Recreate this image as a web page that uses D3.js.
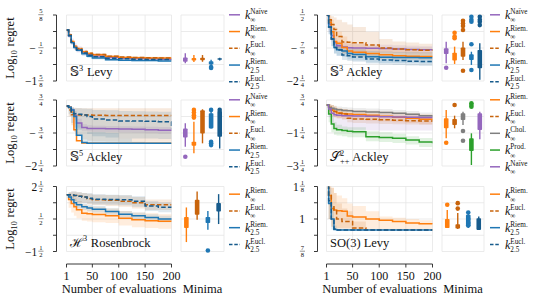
<!DOCTYPE html>
<html>
<head>
<meta charset="utf-8">
<title>Regret curves and minima</title>
<script src="https://d3js.org/d3.v7.min.js"></script>
<style>
  body { margin: 0; background: #fff; }
  svg text { font-family: "Liberation Serif", "DejaVu Serif", serif; fill: #111; white-space: pre; }
</style>
</head>
<body>
<svg id="chart" width="541" height="299"></svg>
<script>
// evaluation grid shared by every curve
const evals = [1, 5, 10, 15, 20, 30, 40, 50, 75, 100, 125, 150, 175, 200];
const xTicks = [1, 50, 100, 150, 200];

// ---- S3 Levy ----
const levyS3Ticks = [0.625, 0.0625, -0.5, -1.0625, -1.625];
const levyS3Labels = ["5/8", "", "−1/2", "", "−1 5/8"];
const levyS3Naive = [0.11, -0.08, -0.3, -0.45, -0.55, -0.66, -0.73, -0.77, -0.82, -0.85, -0.86, -0.87, -0.88, -0.88];
const levyS3NaiveLo = [0.11, -0.16, -0.4, -0.56, -0.65, -0.75, -0.81, -0.85, -0.88, -0.9, -0.91, -0.92, -0.93, -0.93];
const levyS3NaiveHi = [0.11, 0.0, -0.18, -0.33, -0.44, -0.56, -0.64, -0.68, -0.75, -0.79, -0.8, -0.81, -0.82, -0.82];
const levyS3RiemInf = [0.11, -0.06, -0.28, -0.44, -0.53, -0.63, -0.69, -0.73, -0.79, -0.82, -0.83, -0.84, -0.84, -0.84];
const levyS3RiemInfLo = [0.11, -0.12, -0.34, -0.5, -0.59, -0.69, -0.74, -0.78, -0.83, -0.86, -0.87, -0.88, -0.88, -0.88];
const levyS3RiemInfHi = [0.11, 0.0, -0.22, -0.38, -0.47, -0.57, -0.64, -0.68, -0.75, -0.78, -0.79, -0.8, -0.8, -0.8];
const levyS3EuclInf = [0.11, -0.06, -0.28, -0.43, -0.52, -0.62, -0.68, -0.72, -0.78, -0.81, -0.82, -0.83, -0.84, -0.84];
const levyS3Riem25 = [0.11, -0.08, -0.32, -0.48, -0.58, -0.7, -0.78, -0.84, -0.9, -0.92, -0.93, -0.93, -0.94, -0.94];
const levyS3Riem25Lo = [0.11, -0.14, -0.38, -0.54, -0.64, -0.76, -0.84, -0.89, -0.94, -0.95, -0.96, -0.96, -0.97, -0.97];
const levyS3Riem25Hi = [0.11, -0.02, -0.26, -0.42, -0.52, -0.64, -0.72, -0.79, -0.86, -0.89, -0.9, -0.9, -0.91, -0.91];
const levyS3Eucl25 = [0.11, -0.07, -0.3, -0.46, -0.56, -0.67, -0.75, -0.8, -0.85, -0.87, -0.88, -0.89, -0.89, -0.89];
// boxes: [low whisker, q1, q3, high whisker]
const levyS3Boxes = [[-1.02, -0.97, -0.82, -0.68], [-0.98, -0.93, -0.84, -0.74], [-0.97, -0.92, -0.83, -0.74], [-1.1, -1.06, -0.95, -0.9], [-0.93, -0.9, -0.85, -0.83]];
const levyS3Fliers = [[], [], [], [-1.15, -1.18], []];

// ---- S5 Ackley ----
const ackleyS5Ticks = [0.75, 0, -0.75, -1.5, -2.25];
const ackleyS5Labels = ["3/4", "", "−3/4", "", "−2 1/4"];
const ackleyS5Naive = [0.48, 0.42, 0.3, 0.05, -0.3, -0.5, -0.54, -0.55, -0.56, -0.57, -0.58, -0.6, -0.62, -0.64];
const ackleyS5NaiveLo = [0.48, 0.38, 0.2, -0.15, -0.5, -0.65, -0.68, -0.7, -0.72, -0.73, -0.74, -0.76, -0.78, -0.8];
const ackleyS5NaiveHi = [0.48, 0.46, 0.4, 0.2, -0.1, -0.35, -0.4, -0.42, -0.43, -0.44, -0.45, -0.47, -0.48, -0.5];
const ackleyS5RiemInf = [0.48, 0.42, 0.2, -0.6, -1.1, -1.2, -1.22, -1.22, -1.22, -1.22, -1.22, -1.22, -1.22, -1.22];
const ackleyS5EuclInf = [0.48, 0.3, 0.08, 0.07, 0.07, 0.07, 0.07, 0.06, 0.05, 0.05, 0.04, 0.04, 0.04, 0.04];
const ackleyS5EuclInfLo = [0.48, 0.0, -0.4, -0.7, -0.9, -1.05, -1.1, -1.12, -1.14, -1.15, -1.15, -1.15, -1.15, -1.15];
const ackleyS5EuclInfHi = [0.48, 0.47, 0.42, 0.4, 0.39, 0.38, 0.38, 0.38, 0.38, 0.38, 0.37, 0.37, 0.37, 0.37];
const ackleyS5Riem25 = [0.48, 0.42, 0.3, 0.0, -0.85, -1.18, -1.22, -1.22, -1.22, -1.22, -1.22, -1.22, -1.22, -1.22];
const ackleyS5Riem25Lo = [0.48, 0.42, 0.3, 0.0, -0.85, -1.18, -1.22, -1.22, -1.22, -1.22, -1.22, -1.22, -1.22, -1.22];
const ackleyS5Riem25Hi = [0.48, 0.46, 0.4, 0.25, -0.3, -0.7, -0.72, -0.72, -0.75, -1.0, -1.15, -1.2, -1.2, -1.2];
const ackleyS5Eucl25 = [0.48, 0.35, 0.15, 0.12, 0.1, 0.07, 0.0, -0.11, -0.16, -0.2, -0.21, -0.22, -0.24, -0.54];
const ackleyS5Eucl25Lo = [0.48, 0.1, -0.3, -0.5, -0.6, -0.7, -0.8, -0.9, -0.95, -1.0, -1.0, -1.0, -1.02, -1.15];
const ackleyS5Eucl25Hi = [0.48, 0.46, 0.4, 0.38, 0.37, 0.36, 0.35, 0.3, 0.28, 0.25, 0.24, 0.23, 0.22, 0.1];
const ackleyS5Boxes = [[-1.37, -0.96, -0.54, -0.31], [-1.67, -1.33, -1.15, -0.24], [-1.22, -0.77, 0.28, 0.33], [-0.54, -0.54, 0.15, 0.3], [-1.45, -0.92, 0.25, 0.25]];
const ackleyS5Fliers = [[-1.83], [0.3, 0.18, 0.06, -0.05], [], [0.3, -1.15, -1.22, -1.3], [0.3]];

// ---- H3 Rosenbrock ----
const rosenH3Ticks = [2.5, 1.5, 0.5, -0.5, -1.5];
const rosenH3Labels = ["2 1/2", "", "1/2", "", "−1 1/2"];
const rosenH3RiemInf = [1.99, 1.7, 1.45, 1.25, 1.07, 0.86, 0.82, 0.78, 0.7, 0.55, 0.45, 0.4, 0.36, 0.35];
const rosenH3RiemInfLo = [1.99, 1.2, 0.9, 0.7, 0.55, 0.4, 0.35, 0.3, 0.25, 0.1, 0.0, -0.05, -0.1, -0.1];
const rosenH3RiemInfHi = [1.99, 2.1, 2.0, 1.8, 1.6, 1.4, 1.3, 1.25, 1.15, 1.0, 0.9, 0.85, 0.8, 0.8];
const rosenH3EuclInf = [1.99, 1.99, 1.98, 1.95, 1.9, 1.85, 1.75, 1.68, 1.65, 1.6, 1.5, 1.37, 1.37, 1.37];
const rosenH3EuclInfLo = [1.99, 1.8, 1.7, 1.6, 1.55, 1.5, 1.4, 1.35, 1.3, 1.25, 1.15, 1.05, 1.05, 1.05];
const rosenH3EuclInfHi = [1.99, 2.15, 2.2, 2.2, 2.15, 2.1, 2.05, 2.0, 1.98, 1.95, 1.85, 1.7, 1.7, 1.7];
const rosenH3Riem25 = [1.99, 1.85, 1.68, 1.5, 1.37, 1.25, 1.17, 1.1, 0.96, 0.8, 0.7, 0.6, 0.5, 0.45];
const rosenH3Riem25Lo = [1.99, 1.7, 1.5, 1.3, 1.15, 1.05, 0.97, 0.9, 0.76, 0.6, 0.5, 0.4, 0.3, 0.25];
const rosenH3Riem25Hi = [1.99, 2.0, 1.86, 1.7, 1.58, 1.45, 1.37, 1.3, 1.16, 1.0, 0.9, 0.8, 0.7, 0.65];
const rosenH3Eucl25 = [1.99, 1.99, 1.97, 1.95, 1.9, 1.85, 1.78, 1.72, 1.7, 1.68, 1.6, 1.3, 1.22, 1.2];
const rosenH3Eucl25Lo = [1.99, 1.8, 1.7, 1.6, 1.55, 1.5, 1.45, 1.4, 1.38, 1.35, 1.25, 1.0, 0.92, 0.9];
const rosenH3Eucl25Hi = [1.99, 2.15, 2.2, 2.2, 2.15, 2.1, 2.08, 2.02, 2.0, 1.98, 1.9, 1.6, 1.52, 1.5];
const rosenH3Boxes = [[-0.92, -0.06, 0.62, 1.21], [0.45, 0.76, 1.68, 2.19], [-0.16, 0.25, 0.62, 1.0], [0.19, 0.96, 1.48, 2.03]];
const rosenH3Fliers = [[], [], [-1.44], []];

// ---- S3 Ackley ----
const ackleyS3Ticks = [0.5, -0.1875, -0.875, -1.5625, -2.25];
const ackleyS3Labels = ["1/2", "", "−7/8", "", "−2 1/4"];
const ackleyS3Naive = [0.5, 0.1, -0.35, -0.65, -0.78, -0.83, -0.86, -0.88, -0.89, -0.9, -0.92, -0.94, -0.95, -0.96];
const ackleyS3NaiveLo = [0.5, -0.2, -0.6, -0.85, -0.95, -1.0, -1.02, -1.04, -1.05, -1.06, -1.08, -1.1, -1.1, -1.1];
const ackleyS3NaiveHi = [0.5, 0.35, -0.1, -0.45, -0.6, -0.66, -0.7, -0.72, -0.73, -0.74, -0.76, -0.78, -0.8, -0.82];
const ackleyS3RiemInf = [0.5, 0.2, -0.2, -0.6, -0.68, -0.85, -1.0, -1.05, -1.1, -1.16, -1.2, -1.22, -1.23, -1.24];
const ackleyS3RiemInfLo = [0.5, -0.1, -0.5, -0.85, -0.95, -1.1, -1.2, -1.25, -1.3, -1.33, -1.35, -1.36, -1.37, -1.38];
const ackleyS3RiemInfHi = [0.5, 0.45, 0.3, 0.0, -0.2, -0.4, -0.6, -0.7, -0.8, -0.9, -0.95, -1.0, -1.02, -1.05];
const ackleyS3EuclInf = [0.5, 0.3, 0.1, -0.1, -0.4, -0.62, -0.64, -0.66, -0.75, -0.88, -0.92, -0.95, -0.97, -0.99];
const ackleyS3EuclInfLo = [0.5, 0.1, -0.3, -0.6, -0.9, -1.1, -1.1, -1.15, -1.2, -1.25, -1.25, -1.28, -1.28, -1.28];
const ackleyS3EuclInfHi = [0.5, 0.5, 0.45, 0.4, 0.3, 0.2, 0.1, 0.0, -0.2, -0.5, -0.6, -0.65, -0.7, -0.7];
const ackleyS3Riem25 = [0.5, 0.0, -0.5, -0.85, -0.95, -1.0, -1.1, -1.15, -1.24, -1.26, -1.27, -1.27, -1.28, -1.28];
const ackleyS3Riem25Lo = [0.5, -0.3, -0.8, -1.1, -1.2, -1.25, -1.35, -1.4, -1.48, -1.5, -1.5, -1.5, -1.52, -1.52];
const ackleyS3Riem25Hi = [0.5, 0.3, -0.2, -0.6, -0.7, -0.78, -0.88, -0.92, -1.0, -1.02, -1.04, -1.04, -1.05, -1.05];
const ackleyS3Eucl25 = [0.5, 0.0, -0.5, -0.85, -0.96, -1.17, -1.2, -1.25, -1.33, -1.38, -1.4, -1.43, -1.44, -1.45];
const ackleyS3Eucl25Lo = [0.5, -0.3, -0.8, -1.1, -1.2, -1.38, -1.42, -1.45, -1.52, -1.56, -1.58, -1.6, -1.62, -1.62];
const ackleyS3Eucl25Hi = [0.5, 0.3, -0.2, -0.6, -0.72, -0.96, -1.0, -1.05, -1.14, -1.2, -1.22, -1.26, -1.27, -1.28];
const ackleyS3Boxes = [[-1.51, -1.125, -0.89, -0.61], [-1.54, -1.4, -1.07, -0.82], [-1.375, -1.24, -0.85, -0.61], [-1.58, -1.375, -1.14, -1.03], [-2.2, -1.72, -0.96, -0.68]];
const ackleyS3Fliers = [[-1.7], [-0.24, -0.4, -0.47], [0.26, 0.15, 0.04, -0.125, -1.82], [0.43, 0.3, 0.22, -0.72, -1.79], [0.43, 0.3, 0.22, 0.08]];

// ---- SPD(2) Ackley ----
const ackleySpdTicks = [0.75, -0.25, -1.25, -2.25, -3.25];
const ackleySpdLabels = ["3/4", "", "−1 1/4", "", "−3 1/4"];
const ackleySpdRiemInf = [0.45, 0.3, 0.15, 0.05, -0.04, -0.08, -0.1, -0.13, -0.18, -0.24, -0.3, -0.36, -0.42, -0.46];
const ackleySpdRiemInfLo = [0.45, 0.0, -0.2, -0.3, -0.35, -0.4, -0.42, -0.45, -0.5, -0.55, -0.6, -0.65, -0.7, -0.72];
const ackleySpdRiemInfHi = [0.45, 0.5, 0.45, 0.35, 0.25, 0.2, 0.18, 0.15, 0.1, 0.05, 0.0, -0.06, -0.12, -0.16];
const ackleySpdEuclInf = [0.45, 0.3, 0.15, 0.05, -0.05, -0.1, -0.35, -0.4, -0.42, -0.45, -0.48, -0.5, -0.53, -0.55];
const ackleySpdEuclInfLo = [0.45, 0.0, -0.2, -0.3, -0.35, -0.45, -0.6, -0.65, -0.68, -0.7, -0.72, -0.74, -0.76, -0.78];
const ackleySpdEuclInfHi = [0.45, 0.5, 0.45, 0.35, 0.25, 0.2, -0.1, -0.15, -0.18, -0.2, -0.24, -0.26, -0.3, -0.32];
const ackleySpdChol = [0.45, 0.3, 0.25, 0.2, 0.16, 0.12, 0.1, 0.06, 0.03, 0.0, -0.06, -0.12, -0.2, -0.26];
const ackleySpdCholLo = [0.45, 0.1, 0.05, 0.0, -0.04, -0.08, -0.1, -0.14, -0.17, -0.2, -0.26, -0.32, -0.4, -0.46];
const ackleySpdCholHi = [0.45, 0.5, 0.45, 0.4, 0.36, 0.32, 0.3, 0.26, 0.23, 0.2, 0.14, 0.08, 0.0, -0.06];
const ackleySpdProd = [0.45, -0.1, -0.7, -0.97, -1.05, -1.1, -1.15, -1.17, -1.47, -1.52, -1.57, -1.68, -1.8, -1.87];
const ackleySpdProdLo = [0.45, -0.6, -1.2, -1.35, -1.4, -1.45, -1.5, -1.5, -1.75, -1.8, -1.85, -1.95, -2.1, -2.2];
const ackleySpdProdHi = [0.45, 0.3, -0.2, -0.6, -0.75, -0.85, -0.9, -0.9, -1.15, -1.2, -1.3, -1.45, -1.55, -1.6];
const ackleySpdNaive = [0.45, 0.2, -0.05, -0.15, -0.18, -0.2, -0.21, -0.22, -0.24, -0.26, -0.28, -0.3, -0.31, -0.32];
const ackleySpdNaiveLo = [0.45, -0.3, -0.7, -0.9, -1.0, -1.05, -1.05, -1.05, -1.1, -1.1, -1.1, -1.1, -1.1, -1.1];
const ackleySpdNaiveHi = [0.45, 0.4, 0.15, 0.0, -0.03, -0.05, -0.06, -0.07, -0.09, -0.11, -0.13, -0.15, -0.16, -0.17];
const ackleySpdBoxes = [[-1.57, -0.965, -0.36, 0.144], [-0.965, -0.765, -0.4, -0.2], [-0.765, -0.46, -0.056, 0.04], [-3.19, -2.34, -1.57, -1.27], [-1.63, -1.07, -0.056, 0.04]];
const ackleySpdFliers = [[-1.84], [0.447], [-1.13, -1.72], [0.55, 0.45, 0.344], []];

// ---- SO(3) Levy ----
const levySO3Ticks = [1.125, 1.0625, 1, 0.9375, 0.875];
const levySO3Labels = ["1 1/8", "", "1", "", "7/8"];
const levySO3RiemInf = [1.15, 1.09, 1.04, 1.035, 1.032, 1.03, 1.012, 1.008, 1.0, 0.995, 0.99, 0.985, 0.982, 0.98];
const levySO3RiemInfLo = [1.15, 1.0, 0.97, 0.965, 0.965, 0.965, 0.965, 0.962, 0.96, 0.96, 0.96, 0.96, 0.96, 0.96];
const levySO3RiemInfHi = [1.15, 1.14, 1.12, 1.1, 1.09, 1.08, 1.06, 1.05, 1.03, 1.01, 1.005, 1.0, 0.995, 0.995];
const levySO3EuclInf = [1.15, 1.09, 1.05, 1.035, 1.0, 0.99, 0.99, 0.965, 0.958, 0.958, 0.958, 0.958, 0.958, 0.958];
const levySO3EuclInfLo = [1.15, 1.0, 0.97, 0.96, 0.958, 0.958, 0.958, 0.958, 0.958, 0.958, 0.958, 0.958, 0.958, 0.958];
const levySO3EuclInfHi = [1.15, 1.14, 1.12, 1.1, 1.06, 1.04, 1.03, 0.99, 0.96, 0.96, 0.96, 0.96, 0.96, 0.96];
const levySO3Riem25 = [1.15, 1.06, 1.0, 0.96, 0.958, 0.958, 0.958, 0.958, 0.958, 0.958, 0.958, 0.958, 0.958, 0.958];
const levySO3Riem25Lo = [1.15, 1.0, 0.96, 0.958, 0.958, 0.958, 0.958, 0.958, 0.958, 0.958, 0.958, 0.958, 0.958, 0.958];
const levySO3Riem25Hi = [1.15, 1.12, 1.05, 0.975, 0.96, 0.96, 0.96, 0.96, 0.96, 0.96, 0.96, 0.96, 0.96, 0.96];
const levySO3Eucl25 = [1.15, 1.07, 1.0, 0.962, 0.958, 0.958, 0.958, 0.958, 0.958, 0.958, 0.958, 0.958, 0.958, 0.958];
const levySO3Boxes = [[0.965, 0.965, 1.0, 1.035], [0.962, 0.963, 0.98, 1.023], [0.965, 0.971, 1.016, 1.02], [0.958, 0.958, 1.003, 1.01]];
const levySO3Fliers = [[1.055], [1.061, 1.04], [1.025, 1.0, 0.985, 0.975], []];

// ---- styling ----
const style = {
  naive:   {color: "#9467bd", dash: null, sup: "Naïve", sub: "∞"},
  riemInf: {color: "#ff7f0e", dash: null, sup: "Riem.", sub: "∞"},
  euclInf: {color: "#c8640c", dash: "4.5,2.2", sup: "Eucl.", sub: "∞"},
  riem25:  {color: "#1f77b4", dash: null, sup: "Riem.", sub: "2.5"},
  eucl25:  {color: "#175b8c", dash: "4.5,2.2", sup: "Eucl.", sub: "2.5"},
  chol:    {color: "#7f7f7f", dash: null, sup: "Chol.", sub: "∞"},
  prod:    {color: "#2ca02c", dash: null, sup: "Prod.", sub: "∞"}
};

const cols = [
  {spine: 56.5, x0: 66.5, x1: 171.5, bx0: 181, bx1: 224, lx0: 229, lx1: 240, tx: 245, labRight: 43.5},
  {spine: 317.5, x0: 326.5, x1: 432.5, bx0: 442, bx1: 484, lx0: 490, lx1: 500, tx: 505, labRight: 305}
];
const rows = [{y0: 15, y1: 81}, {y0: 100, y1: 166}, {y0: 186.5, y1: 251.5}];

const panels = [
  {col: 0, row: 0, title: [{t: "𝕊"}, {sup: "3"}, {t: " Levy"}], ticks: levyS3Ticks, labels: levyS3Labels,
   keys: ["naive", "riemInf", "euclInf", "riem25", "eucl25"],
   lines: [levyS3Naive, levyS3RiemInf, levyS3EuclInf, levyS3Riem25, levyS3Eucl25],
   bands: [[levyS3NaiveLo, levyS3NaiveHi], [levyS3RiemInfLo, levyS3RiemInfHi], null, [levyS3Riem25Lo, levyS3Riem25Hi], null],
   boxes: levyS3Boxes, fliers: levyS3Fliers},
  {col: 0, row: 1, title: [{t: "𝕊"}, {sup: "5"}, {t: " Ackley"}], ticks: ackleyS5Ticks, labels: ackleyS5Labels,
   keys: ["naive", "riemInf", "euclInf", "riem25", "eucl25"],
   lines: [ackleyS5Naive, ackleyS5RiemInf, ackleyS5EuclInf, ackleyS5Riem25, ackleyS5Eucl25],
   bands: [[ackleyS5NaiveLo, ackleyS5NaiveHi], null, [ackleyS5EuclInfLo, ackleyS5EuclInfHi], [ackleyS5Riem25Lo, ackleyS5Riem25Hi], [ackleyS5Eucl25Lo, ackleyS5Eucl25Hi]],
   boxes: ackleyS5Boxes, fliers: ackleyS5Fliers},
  {col: 0, row: 2, title: [{t: "ℋ"}, {sup: "3"}, {t: " Rosenbrock"}], ticks: rosenH3Ticks, labels: rosenH3Labels,
   keys: ["riemInf", "euclInf", "riem25", "eucl25"],
   lines: [rosenH3RiemInf, rosenH3EuclInf, rosenH3Riem25, rosenH3Eucl25],
   bands: [[rosenH3RiemInfLo, rosenH3RiemInfHi], [rosenH3EuclInfLo, rosenH3EuclInfHi], [rosenH3Riem25Lo, rosenH3Riem25Hi], [rosenH3Eucl25Lo, rosenH3Eucl25Hi]],
   boxes: rosenH3Boxes, fliers: rosenH3Fliers},
  {col: 1, row: 0, title: [{t: "𝕊"}, {sup: "3"}, {t: " Ackley"}], ticks: ackleyS3Ticks, labels: ackleyS3Labels,
   keys: ["naive", "riemInf", "euclInf", "riem25", "eucl25"],
   lines: [ackleyS3Naive, ackleyS3RiemInf, ackleyS3EuclInf, ackleyS3Riem25, ackleyS3Eucl25],
   bands: [[ackleyS3NaiveLo, ackleyS3NaiveHi], [ackleyS3RiemInfLo, ackleyS3RiemInfHi], [ackleyS3EuclInfLo, ackleyS3EuclInfHi], [ackleyS3Riem25Lo, ackleyS3Riem25Hi], [ackleyS3Eucl25Lo, ackleyS3Eucl25Hi]],
   boxes: ackleyS3Boxes, fliers: ackleyS3Fliers},
  {col: 1, row: 1, title: [{t: "𝒮"}, {sup: "2", sub: "++"}, {t: " Ackley"}], ticks: ackleySpdTicks, labels: ackleySpdLabels,
   keys: ["riemInf", "euclInf", "chol", "prod", "naive"],
   lines: [ackleySpdRiemInf, ackleySpdEuclInf, ackleySpdChol, ackleySpdProd, ackleySpdNaive],
   bands: [[ackleySpdRiemInfLo, ackleySpdRiemInfHi], [ackleySpdEuclInfLo, ackleySpdEuclInfHi], [ackleySpdCholLo, ackleySpdCholHi], [ackleySpdProdLo, ackleySpdProdHi], [ackleySpdNaiveLo, ackleySpdNaiveHi]],
   boxes: ackleySpdBoxes, fliers: ackleySpdFliers},
  {col: 1, row: 2, title: [{t: "SO(3) Levy"}], ticks: levySO3Ticks, labels: levySO3Labels,
   keys: ["riemInf", "euclInf", "riem25", "eucl25"],
   lines: [levySO3RiemInf, levySO3EuclInf, levySO3Riem25, levySO3Eucl25],
   bands: [[levySO3RiemInfLo, levySO3RiemInfHi], [levySO3EuclInfLo, levySO3EuclInfHi], [levySO3Riem25Lo, levySO3Riem25Hi], null],
   boxes: levySO3Boxes, fliers: levySO3Fliers}
];

const svg = d3.select("#chart");
const gridColor = "#e6e6e6";

// one <text> whose pieces follow each other; sup/sub pieces are stacked
function rich(parent, x, y, pieces, size, anchor, ratio) {
  const g = parent.append("g");
  const text = g.append("text").attr("font-size", size);
  const s = size * (ratio || 0.64);
  let cx = 0;
  pieces.forEach(p => {
    if (p.sup !== undefined || p.sub !== undefined) {
      let w = 0;
      if (p.sup) {
        const t = text.append("tspan").attr("x", cx).attr("y", -size * 0.42).attr("font-size", s).text(p.sup);
        w = Math.max(w, t.node().getComputedTextLength());
      }
      if (p.sub) {
        const t = text.append("tspan").attr("x", cx).attr("y", size * 0.27).attr("font-size", s).text(p.sub);
        w = Math.max(w, t.node().getComputedTextLength());
      }
      cx += w + 0.6;
    } else {
      const t = text.append("tspan").attr("x", cx).attr("y", 0).text(p.t);
      if (p.italic) t.attr("font-style", "italic");
      cx += t.node().getComputedTextLength();
    }
  });
  const dx = anchor === "middle" ? -cx / 2 : (anchor === "end" ? -cx : 0);
  g.attr("transform", `translate(${x + dx},${y})`);
  return g;
}

// tick label with an optional stacked fraction, right aligned at x
function fracLabel(parent, label, x, y) {
  if (!label) return;
  const m = label.match(/^(−?)(\d*)\s?(?:(\d+)\/(\d+))?$/);
  const sign = m[1], whole = m[2], num = m[3], den = m[4];
  let right = x;
  if (num) {
    const fx = x - 2.6;
    parent.append("text").attr("x", fx).attr("y", y - 2.0).attr("font-size", 6.6).attr("text-anchor", "middle").text(num);
    parent.append("text").attr("x", fx).attr("y", y + 5.9).attr("font-size", 6.6).attr("text-anchor", "middle").text(den);
    parent.append("line").attr("x1", fx - 2.6).attr("x2", fx + 2.6).attr("y1", y - 0.3).attr("y2", y - 0.3)
      .attr("stroke", "#111").attr("stroke-width", 0.45);
    right = x - (whole ? 6.3 : 7.8);
  }
  const head = sign + whole;
  if (head) {
    parent.append("text").attr("x", right).attr("y", y + 4).attr("font-size", 11.5).attr("text-anchor", "end").text(head);
  }
}

panels.forEach((p, pi) => {
  const c = cols[p.col], r = rows[p.row];
  const x = d3.scaleLinear().domain([1, 200]).range([c.x0, c.x1]);
  const y = d3.scaleLinear().domain([p.ticks[p.ticks.length - 1], p.ticks[0]]).range([r.y1, r.y0]);
  const g = svg.append("g");

  // grid of the curve panel
  g.selectAll(".gy").data(p.ticks).join("line")
    .attr("x1", c.x0).attr("x2", c.x1).attr("y1", d => y(d)).attr("y2", d => y(d))
    .attr("stroke", gridColor).attr("stroke-width", 0.8);
  g.selectAll(".gx").data(xTicks).join("line")
    .attr("x1", d => x(d)).attr("x2", d => x(d)).attr("y1", r.y0).attr("y2", r.y1)
    .attr("stroke", gridColor).attr("stroke-width", 0.8);

  // y axis spine with ticks
  g.append("line").attr("x1", c.spine).attr("x2", c.spine).attr("y1", r.y0).attr("y2", r.y1)
    .attr("stroke", "#222").attr("stroke-width", 0.9);
  p.ticks.forEach((t, i) => {
    g.append("line").attr("x1", c.spine - 3.5).attr("x2", c.spine).attr("y1", y(t)).attr("y2", y(t))
      .attr("stroke", "#222").attr("stroke-width", 0.9);
    fracLabel(g, p.labels[i], c.labRight, y(t));
  });

  // curves, clipped to the panel
  const clipId = "clip" + pi;
  svg.append("clipPath").attr("id", clipId).append("rect")
    .attr("x", c.x0).attr("y", r.y0).attr("width", c.x1 - c.x0).attr("height", r.y1 - r.y0);
  const plot = g.append("g").attr("clip-path", `url(#${clipId})`);
  const area = d3.area().curve(d3.curveStepAfter).x((d, i) => x(evals[i])).y0(d => y(d[0])).y1(d => y(d[1]));
  const line = d3.line().curve(d3.curveStepAfter).x((d, i) => x(evals[i])).y(d => y(d));
  p.keys.forEach((k, i) => {
    const b = p.bands[i];
    if (!b) return;
    plot.append("path").datum(d3.zip(b[0], b[1])).attr("d", area)
      .attr("fill", style[k].color).attr("fill-opacity", 0.14);
  });
  p.keys.forEach((k, i) => {
    plot.append("path").datum(p.lines[i]).attr("d", line)
      .attr("fill", "none").attr("stroke", style[k].color).attr("stroke-width", 1.5)
      .attr("stroke-dasharray", style[k].dash);
  });

  // panel title
  rich(g, c.x0 + 3.5, r.y1 - 5, p.title, 12.5, "start", 0.66);

  // box panel
  const bx = d3.scaleBand().domain(p.keys).range([c.bx0, c.bx1]);
  g.selectAll(".bgy").data(p.ticks).join("line")
    .attr("x1", c.bx0).attr("x2", c.bx1).attr("y1", d => y(d)).attr("y2", d => y(d))
    .attr("stroke", gridColor).attr("stroke-width", 0.8);
  [c.bx0, c.bx1].forEach(v => g.append("line").attr("x1", v).attr("x2", v).attr("y1", r.y0).attr("y2", r.y1)
    .attr("stroke", gridColor).attr("stroke-width", 0.8));
  p.keys.forEach((k, i) => {
    const cx = bx(k) + bx.bandwidth() / 2;
    const [wl, q1, q3, wh] = p.boxes[i];
    const col = style[k].color;
    g.append("line").attr("x1", cx).attr("x2", cx).attr("y1", y(wl)).attr("y2", y(wh))
      .attr("stroke", col).attr("stroke-width", 1.4);
    g.append("rect").attr("x", cx - 2.3).attr("width", 4.6)
      .attr("y", y(q3)).attr("height", Math.max(1.5, y(q1) - y(q3))).attr("rx", 0.8)
      .attr("fill", col);
    g.selectAll(null).data(p.fliers[i]).join("circle")
      .attr("cx", cx).attr("cy", d => y(d)).attr("r", 2.3).attr("fill", col);
  });

  // legend
  const n = p.keys.length, mid = (r.y0 + r.y1) / 2 + 0.3, step = 16.75;
  p.keys.forEach((k, i) => {
    const ly = mid + (i - (n - 1) / 2) * step;
    g.append("line").attr("x1", c.lx0).attr("x2", c.lx1).attr("y1", ly).attr("y2", ly)
      .attr("stroke", style[k].color).attr("stroke-width", 1.5).attr("stroke-dasharray", style[k].dash ? "3.5,1.8" : null);
    rich(g, c.tx, ly + 4.2, [{t: "k", italic: true}, {sup: style[k].sup, sub: style[k].sub}], 12, "start", 0.6);
  });

  // x axis on the bottom row only
  if (p.row === 2) {
    const ay = 264;
    g.append("line").attr("x1", c.x0).attr("x2", c.x1).attr("y1", ay).attr("y2", ay)
      .attr("stroke", "#222").attr("stroke-width", 0.9);
    xTicks.forEach(t => {
      g.append("line").attr("x1", x(t)).attr("x2", x(t)).attr("y1", ay).attr("y2", ay + 3.5)
        .attr("stroke", "#222").attr("stroke-width", 0.9);
      g.append("text").attr("x", x(t)).attr("y", 280).attr("font-size", 12).attr("text-anchor", "middle").text(t);
    });
    g.append("text").attr("x", (c.x0 + c.x1) / 2).attr("y", 293).attr("font-size", 12.5)
      .attr("text-anchor", "middle").text("Number of evaluations");
    g.append("text").attr("x", (c.bx0 + c.bx1) / 2).attr("y", 293).attr("font-size", 12.5)
      .attr("text-anchor", "middle").text("Minima");
  }

  // y label on the left column
  if (p.col === 0) {
    const yl = svg.append("g").attr("transform", `translate(14,${(r.y0 + r.y1) / 2}) rotate(-90)`);
    rich(yl, 0, 0, [{t: "Log"}, {sub: "10"}, {t: " regret"}], 12.5, "middle", 0.66);
  }
});
</script>
</body>
</html>
